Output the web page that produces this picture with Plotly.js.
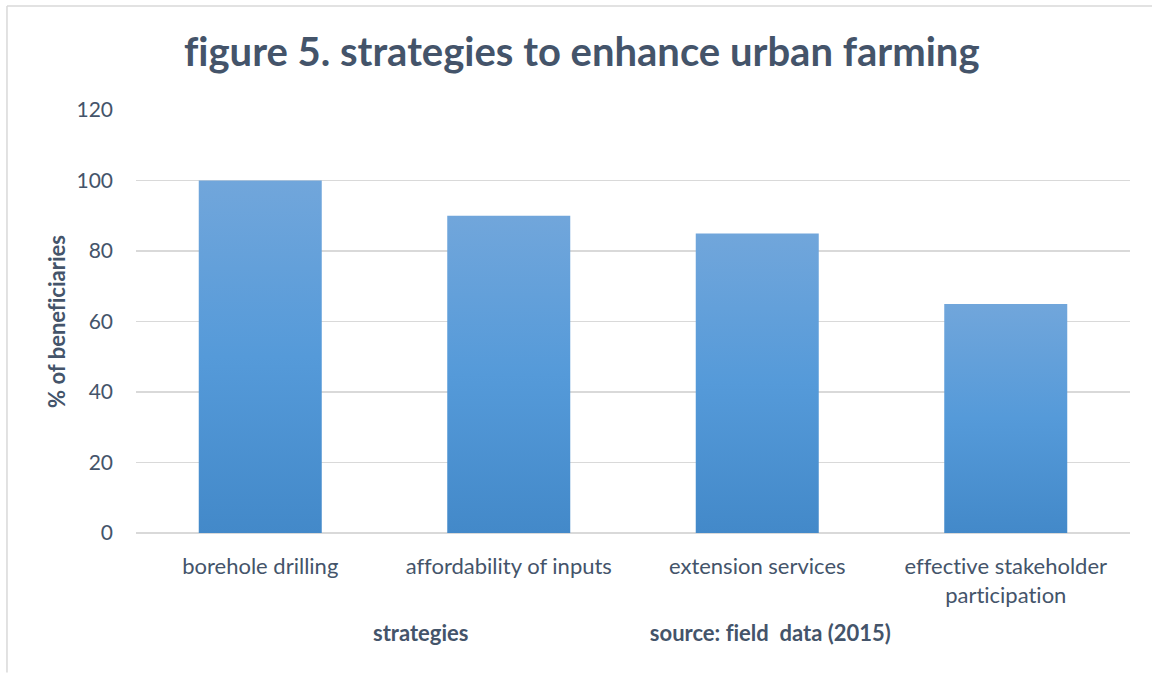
<!DOCTYPE html>
<html>
<head>
<meta charset="utf-8">
<script src="https://cdn.plot.ly/plotly-3.0.1.min.js"></script>
<style>html,body{margin:0;padding:0;background:#fff;}#chart{width:1152px;height:673px;}#chart text{font-variant-ligatures:none;font-feature-settings:"liga" 0;}</style>
</head>
<body>
<div id="chart"></div>
<script>
var categories = ["borehole drilling", "affordability of inputs", "extension services", "effective stakeholder<br>participation"];
var beneficiaries = [100, 90, 85, 65];
var yTicks = [0, 20, 40, 60, 80, 100, 120];

var textColor = "#44546a";
var fontFam = "Lato, 'Open Sans', sans-serif";

var trace = {
  type: "bar",
  x: categories,
  y: beneficiaries,
  width: 0.495,
  marker: {color: "#5599d8", line: {width: 0}},
  hoverinfo: "x+y"
};

var layout = {
  width: 1152, height: 673,
  margin: {l: 136, r: 22, t: 110, b: 140},
  paper_bgcolor: "#fff", plot_bgcolor: "#fff",
  showlegend: false,
  font: {family: fontFam, color: textColor},
  title: {text: "<b>figure 5. strategies to enhance urban farming</b>", font: {size: 40, color: textColor, family: fontFam}, x: 0.505, xanchor: "center", y: 0.923, yanchor: "middle"},
  xaxis: {type: "category", showgrid: false, zeroline: false, showline: false, ticks: "", tickfont: {size: 22, color: textColor}, ticklabelstandoff: 18},
  yaxis: {range: [0, 120], tickvals: yTicks, ticktext: yTicks.map(String), showgrid: true, gridcolor: "#d9d9d9", gridwidth: 1.2, zeroline: true, zerolinecolor: "#d9d9d9", zerolinewidth: 1.2, showline: false, ticks: "", tickfont: {size: 21, color: textColor}, ticklabelstandoff: 22,
    title: {text: "<b>% of beneficiaries</b>", font: {size: 22, color: textColor}, standoff: 4}},
  annotations: [
    {text: "<b>strategies</b>", xref: "paper", yref: "paper", x: 0.286, y: -0.235, xanchor: "center", yanchor: "middle", showarrow: false, font: {size: 22, color: textColor}},
    {text: "<b>source: field  data (2015)</b>", xref: "paper", yref: "paper", x: 0.638, y: -0.235, xanchor: "center", yanchor: "middle", showarrow: false, font: {size: 22, color: textColor}}
  ],
  shapes: [
    {type: "line", xref: "paper", yref: "paper", x0: -0.1298, x1: 1.03, y0: 1.246, y1: 1.246, line: {color: "#d9d9d9", width: 1.5}},
    {type: "line", xref: "paper", yref: "paper", x0: -0.1298, x1: -0.1298, y0: 1.246, y1: -0.33, line: {color: "#d9d9d9", width: 1.5}}
  ]
};

Plotly.newPlot("chart", [trace], layout, {displayModeBar: false, staticPlot: true}).then(function(gd){
  var svg = gd.querySelector("svg.main-svg");
  var ns = "http://www.w3.org/2000/svg";
  var defs = svg.querySelector("defs") || svg.insertBefore(document.createElementNS(ns, "defs"), svg.firstChild);
  var lg = document.createElementNS(ns, "linearGradient");
  lg.setAttribute("id", "barGrad");
  lg.setAttribute("x1", "0"); lg.setAttribute("y1", "0"); lg.setAttribute("x2", "0"); lg.setAttribute("y2", "1");
  [["0%", "#71a6db"], ["50%", "#559ad9"], ["100%", "#4389c9"]].forEach(function(s){
    var st = document.createElementNS(ns, "stop");
    st.setAttribute("offset", s[0]); st.setAttribute("stop-color", s[1]);
    lg.appendChild(st);
  });
  defs.appendChild(lg);
  gd.querySelectorAll(".bars .point path").forEach(function(p){ p.style.fill = "url(#barGrad)"; });
});
</script>
</body>
</html>
